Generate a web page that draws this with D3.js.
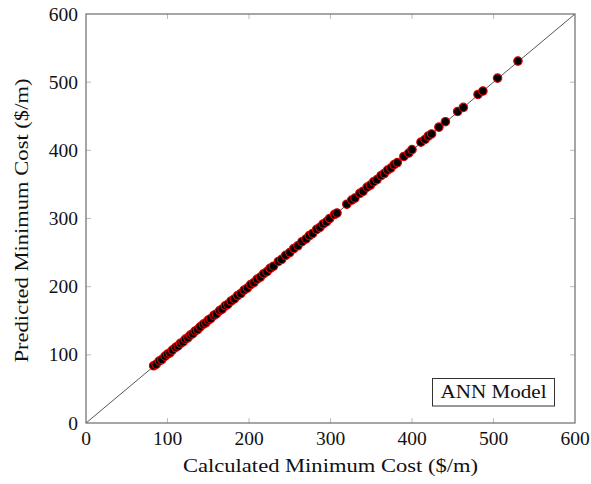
<!DOCTYPE html>
<html>
<head>
<meta charset="utf-8">
<script src="https://cdn.jsdelivr.net/npm/d3@7"></script>
<style>
  html, body { margin: 0; padding: 0; background: #fff; }
  svg { display: block; }
  text { font-family: "Liberation Serif", "Times New Roman", serif; fill: #111; }
</style>
</head>
<body>
<svg id="chart" width="591" height="484"></svg>
<script>
// ---- data ----
const calculated = [83, 86, 90, 93, 97, 100, 103, 106, 110, 113, 116, 119, 122, 125, 128, 131, 134, 137, 140, 144,
  147, 150, 153, 157, 160, 164, 167, 171, 174, 178, 182, 186, 190, 194, 198, 202, 206, 210, 214, 218,
  222, 226, 230, 236, 240, 245, 250, 255, 260, 265, 270, 274, 278, 283, 287, 291, 295, 299, 305, 308,
  320, 326, 330, 336, 340, 345, 349, 353, 357, 362, 366, 370, 374, 378, 382, 390, 396, 400, 411, 416,
  420, 424, 433, 441, 456, 463, 481, 487, 505, 530];
const predicted = [84, 86, 91, 93, 98, 101, 103, 107, 111, 113, 117, 119, 123, 125, 129, 131, 135, 137, 141, 145,
  147, 151, 153, 158, 160, 165, 167, 172, 174, 179, 182, 187, 190, 195, 198, 203, 206, 211, 214, 219,
  222, 227, 230, 237, 240, 246, 250, 256, 260, 266, 270, 275, 278, 284, 287, 292, 295, 300, 306, 308,
  321, 327, 330, 337, 340, 346, 349, 354, 357, 363, 366, 371, 374, 379, 382, 391, 396, 401, 412, 416,
  421, 424, 434, 442, 457, 463, 482, 487, 506, 531];
const xTicks = [0, 100, 200, 300, 400, 500, 600];
const yTicks = [0, 100, 200, 300, 400, 500, 600];
const xLabel = "Calculated Minimum Cost ($/m)";
const yLabel = "Predicted Minimum Cost ($/m)";
const legendLabel = "ANN Model";

// ---- layout ----
const svg = d3.select("#chart");
const L = 86, R = 575, T = 14, B = 423;
const x = d3.scaleLinear().domain([0, 600]).range([L, R]);
const y = d3.scaleLinear().domain([0, 600]).range([B, T]);

const tickLen = 5;
const g = svg.append("g");

// inner ticks (all four sides)
xTicks.slice(1, -1).forEach(v => {
  g.append("line").attr("x1", x(v)).attr("x2", x(v)).attr("y1", B).attr("y2", B - tickLen)
    .attr("stroke", "#bdbdbd").attr("stroke-width", 1);
  g.append("line").attr("x1", x(v)).attr("x2", x(v)).attr("y1", T).attr("y2", T + tickLen)
    .attr("stroke", "#bdbdbd").attr("stroke-width", 1);
});
yTicks.slice(1, -1).forEach(v => {
  g.append("line").attr("x1", L).attr("x2", L + tickLen).attr("y1", y(v)).attr("y2", y(v))
    .attr("stroke", "#bdbdbd").attr("stroke-width", 1);
  g.append("line").attr("x1", R).attr("x2", R - tickLen).attr("y1", y(v)).attr("y2", y(v))
    .attr("stroke", "#bdbdbd").attr("stroke-width", 1);
});

// diagonal y = x
g.append("line").attr("x1", x(0)).attr("y1", y(0)).attr("x2", x(600)).attr("y2", y(600))
  .attr("stroke", "#444").attr("stroke-width", 0.9);

// points
g.selectAll("circle.pt").data(calculated.map((c, i) => [c, predicted[i]]))
  .enter().append("circle").attr("class", "pt")
  .attr("cx", d => x(d[0])).attr("cy", d => y(d[1])).attr("r", 4.2)
  .attr("fill", "#000").attr("stroke", "#e00000").attr("stroke-width", 1.2);

// frame
g.append("rect").attr("x", L).attr("y", T).attr("width", R - L).attr("height", B - T)
  .attr("fill", "none").attr("stroke", "#6b6b6b").attr("stroke-width", 1.2);

// tick labels
xTicks.forEach(v => {
  svg.append("text").attr("x", x(v)).attr("y", 445).attr("text-anchor", "middle")
    .style("font-size", "19.5px").text(v);
});
yTicks.forEach(v => {
  svg.append("text").attr("x", 78).attr("y", y(v) + 6.5).attr("text-anchor", "end")
    .style("font-size", "19.5px").text(v);
});

// axis labels
svg.append("text").attr("x", 330.5).attr("y", 472).attr("text-anchor", "middle")
  .style("font-size", "19px").attr("textLength", 295).attr("lengthAdjust", "spacingAndGlyphs").text(xLabel);
svg.append("text").attr("transform", "translate(28,220.5) rotate(-90)").attr("text-anchor", "middle")
  .style("font-size", "19px").attr("textLength", 284).attr("lengthAdjust", "spacingAndGlyphs").text(yLabel);

// legend box
svg.append("rect").attr("x", 432.5).attr("y", 378.5).attr("width", 122).attr("height", 27.5)
  .attr("fill", "#fff").attr("stroke", "#333").attr("stroke-width", 1);
svg.append("text").attr("x", 493.5).attr("y", 398).attr("text-anchor", "middle")
  .style("font-size", "19px").attr("textLength", 106).attr("lengthAdjust", "spacingAndGlyphs").text(legendLabel);
</script>
</body>
</html>
